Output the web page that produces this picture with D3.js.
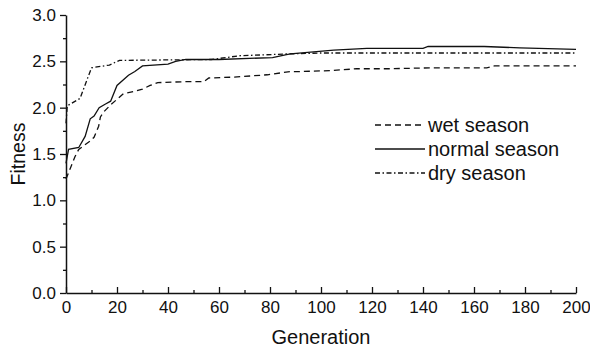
<!DOCTYPE html>
<html>
<head>
<meta charset="utf-8">
<script src="https://cdn.jsdelivr.net/npm/d3@7"></script>
<style>
  body { margin: 0; background: #fff; }
  svg { display: block; font-family: "Liberation Sans", Arial, sans-serif; }
</style>
</head>
<body>
<svg id="chart" width="590" height="350"></svg>
<script>
// data
var wetGen = [0, 3.5, 5, 6.5, 9.5, 11, 12.8, 13.5, 15, 17.5, 20, 22.5, 27.5, 30, 33, 36, 46, 54, 56, 66, 79, 88, 92, 104, 114, 127, 143, 165, 168, 200];
var wetFit = [1.23, 1.47, 1.55, 1.58, 1.64, 1.68, 1.80, 1.90, 1.96, 2.03, 2.09, 2.15, 2.18, 2.20, 2.24, 2.27, 2.28, 2.28, 2.32, 2.33, 2.355, 2.39, 2.39, 2.40, 2.42, 2.42, 2.43, 2.43, 2.45, 2.45];

var normalGen = [0, 1, 5, 7.5, 9.5, 11, 13, 15.5, 17.5, 20, 24.5, 27, 30, 40, 43, 47, 60, 81, 86, 88, 105, 118, 140, 142, 164, 178, 200];
var normalFit = [1.40, 1.55, 1.57, 1.69, 1.88, 1.91, 2.00, 2.04, 2.07, 2.24, 2.35, 2.39, 2.45, 2.47, 2.50, 2.52, 2.52, 2.54, 2.57, 2.58, 2.62, 2.64, 2.64, 2.66, 2.66, 2.645, 2.63];

var dryGen = [0, 0.5, 5.5, 10, 17, 21, 57, 68, 87, 100, 200];
var dryFit = [1.83, 2.02, 2.10, 2.43, 2.46, 2.51, 2.52, 2.56, 2.58, 2.59, 2.59];

var seriesNames = ["wet season", "normal season", "dry season"];
var xTicks = [0, 20, 40, 60, 80, 100, 120, 140, 160, 180, 200];
var yTicks = [0.0, 0.5, 1.0, 1.5, 2.0, 2.5, 3.0];

var margin = {top: 15, right: 14, bottom: 57, left: 66};
var svg = d3.select("#chart");
var width = 590 - margin.left - margin.right,
    height = 350 - margin.top - margin.bottom;

var g = svg.append("g")
    .attr("transform", "translate(" + margin.left + "," + margin.top + ")");

var x = d3.scaleLinear().domain([0, 200]).range([0, width]);
var y = d3.scaleLinear().domain([0, 3]).range([height, 0]);

// minor ticks
g.append("g")
    .attr("class", "minor")
    .attr("transform", "translate(0," + height + ")")
    .call(d3.axisBottom(x).tickValues(d3.range(10, 200, 20)).tickSize(-3).tickFormat(""));
g.append("g")
    .attr("class", "minor")
    .call(d3.axisLeft(y).tickValues(d3.range(0.25, 3, 0.5)).tickSize(3).tickFormat(""));

// major axes
g.append("g")
    .attr("transform", "translate(0," + height + ")")
    .call(d3.axisBottom(x).tickValues(xTicks).tickSize(-6).tickSizeOuter(0).tickPadding(8)
        .tickFormat(d3.format("d")));
g.append("g")
    .call(d3.axisLeft(y).tickValues(yTicks).tickSize(6).tickSizeOuter(0).tickPadding(4)
        .tickFormat(d3.format(".1f")));

g.selectAll(".domain").attr("stroke", "#111").attr("stroke-width", 1.5);
g.selectAll(".tick line").attr("stroke", "#111").attr("stroke-width", 1.3);
g.selectAll(".minor .domain").remove();
g.selectAll(".tick text").attr("font-size", 17).attr("fill", "#111")
    .attr("font-family", "Liberation Sans, Arial, sans-serif");

// axis titles
svg.append("text")
    .attr("x", margin.left + width / 2)
    .attr("y", 344)
    .attr("text-anchor", "middle")
    .attr("font-size", 20)
    .attr("fill", "#111")
    .text("Generation");
svg.append("text")
    .attr("transform", "translate(25," + (margin.top + height / 2) + ") rotate(-90)")
    .attr("text-anchor", "middle")
    .attr("font-size", 19.5)
    .attr("fill", "#111")
    .text("Fitness");

// lines
var dashes = ["6,4", null, "5,2.5,1.5,2.5"];
var series = [
    {gen: wetGen, fit: wetFit},
    {gen: normalGen, fit: normalFit},
    {gen: dryGen, fit: dryFit}
];
var line = d3.line()
    .x(function(d) { return x(d[0]); })
    .y(function(d) { return y(d[1]); });

series.forEach(function(s, i) {
    var pts = s.gen.map(function(v, j) { return [v, s.fit[j]]; });
    g.append("path")
        .datum(pts)
        .attr("d", line)
        .attr("fill", "none")
        .attr("stroke", "#111")
        .attr("stroke-width", 1.3)
        .attr("stroke-dasharray", dashes[i]);
});

// legend
var legend = g.append("g").attr("transform", "translate(309,110)");
seriesNames.forEach(function(name, i) {
    var row = legend.append("g").attr("transform", "translate(0," + (i * 24) + ")");
    row.append("line")
        .attr("x1", 0).attr("x2", 50)
        .attr("stroke", "#111")
        .attr("stroke-width", 1.3)
        .attr("stroke-dasharray", dashes[i]);
    row.append("text")
        .attr("x", 53)
        .attr("dy", "0.35em")
        .attr("font-size", 20)
        .attr("fill", "#111")
        .text(name);
});
</script>
</body>
</html>
